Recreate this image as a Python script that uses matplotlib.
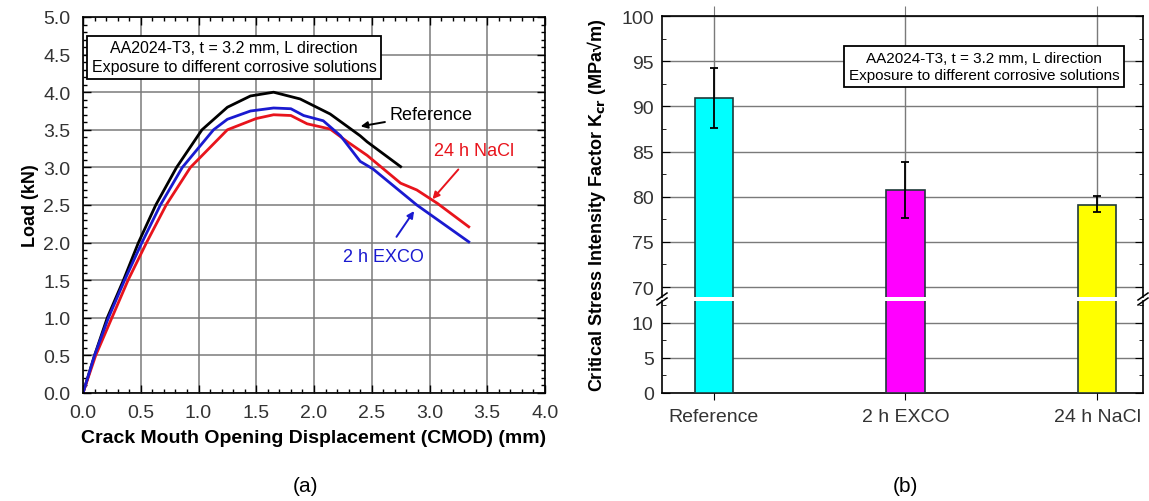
import matplotlib.pyplot as plt
from matplotlib.ticker import MultipleLocator

plt.rcParams['font.family'] = ['Liberation Sans', 'DejaVu Sans']

# ---- panel (a): load vs CMOD ----
ref_x = [0.0, 0.10, 0.21, 0.35, 0.48, 0.63, 0.81, 1.03, 1.25, 1.45, 1.65, 1.88, 2.14, 2.40, 2.46, 2.75]
ref_y = [0.0, 0.50, 1.00, 1.50, 2.00, 2.50, 3.00, 3.50, 3.80, 3.95, 4.00, 3.91, 3.71, 3.42, 3.34, 3.01]
exco_x = [0.0, 0.10, 0.22, 0.36, 0.51, 0.67, 0.86, 1.13, 1.25, 1.45, 1.65, 1.80, 1.91, 2.08, 2.23, 2.40, 2.51, 2.89, 3.34]
exco_y = [0.0, 0.50, 1.00, 1.50, 2.00, 2.50, 3.00, 3.50, 3.64, 3.75, 3.79, 3.78, 3.69, 3.62, 3.42, 3.08, 2.98, 2.50, 2.01]
nacl_x = [0.0, 0.11, 0.25, 0.39, 0.55, 0.72, 0.93, 1.25, 1.50, 1.65, 1.80, 1.94, 2.14, 2.29, 2.46, 2.75, 2.89, 3.07, 3.34]
nacl_y = [0.0, 0.50, 1.00, 1.50, 2.00, 2.50, 3.00, 3.50, 3.65, 3.70, 3.69, 3.58, 3.51, 3.34, 3.16, 2.79, 2.70, 2.52, 2.21]

# ---- panel (b): critical stress intensity factor ----
cases = ['Reference', '2 h EXCO', '24 h NaCl']
kcr = [90.9, 80.7, 79.1]
kcr_lo = [87.6, 77.6, 78.3]
kcr_hi = [94.2, 83.8, 80.1]
bar_colors = ['#00FFFF', '#FF00FF', '#FFFF00']

note = 'AA2024-T3, t = 3.2 mm, L direction\nExposure to different corrosive solutions'

fig = plt.figure(figsize=(11.49, 5.02), dpi=100)
W, H = 1149, 502

def box(l, t, r, b):
    return [l / W, 1 - b / H, (r - l) / W, (b - t) / H]

grid_c = '#7a7a7a'
tick_c = '#333333'
red = '#e8141c'
blue = '#1a1ad0'

# ----------------- (a) -----------------
ax = fig.add_axes(box(83, 18, 545, 394))
ax.plot(ref_x, ref_y, color='black', lw=2)
ax.plot(nacl_x, nacl_y, color=red, lw=2)
ax.plot(exco_x, exco_y, color=blue, lw=2)
ax.set_xlim(0, 4)
ax.set_ylim(0, 5)
ax.xaxis.set_major_locator(MultipleLocator(0.5))
ax.xaxis.set_minor_locator(MultipleLocator(0.1))
ax.yaxis.set_major_locator(MultipleLocator(0.5))
ax.yaxis.set_minor_locator(MultipleLocator(0.1))
ax.xaxis.set_major_formatter(plt.FormatStrFormatter('%.1f'))
ax.yaxis.set_major_formatter(plt.FormatStrFormatter('%.1f'))
ax.grid(True, which='major', color=grid_c, lw=1.1)
ax.tick_params(which='both', direction='in', top=True, right=True, labelsize=14,
               labelcolor=tick_c, width=1)
ax.tick_params(which='major', length=6)
ax.tick_params(which='minor', length=3)
ax.tick_params(axis='x', pad=8)
ax.tick_params(axis='y', pad=9)
for s in ax.spines.values():
    s.set_linewidth(1.2)
ax.set_ylabel('Load (kN)', fontsize=13, fontweight='bold', labelpad=3)
ax.set_xlabel('Crack Mouth Opening Displacement (CMOD) (mm)', fontsize=14,
              fontweight='bold', labelpad=6)
ax.text(0.327, 0.893, note, transform=ax.transAxes, ha='center', va='center',
        fontsize=11.5, linespacing=1.3,
        bbox=dict(boxstyle='square,pad=0.3', fc='white', ec='black', lw=1.3))

arrow = dict(arrowstyle='-|>', lw=1.4, mutation_scale=10)
ax.annotate('Reference', xy=(2.38, 3.54), xytext=(2.65, 3.71), fontsize=13,
            ha='left', va='center', color='black',
            arrowprops=dict(arrow, color='black', shrinkA=1))
ax.annotate('24 h NaCl', xy=(3.01, 2.55), xytext=(3.39, 3.22), fontsize=13,
            ha='center', va='center', color=red,
            arrowprops=dict(arrow, color=red, shrinkA=7))
ax.annotate('2 h EXCO', xy=(2.88, 2.45), xytext=(2.60, 1.82), fontsize=13,
            ha='center', va='center', color=blue,
            arrowprops=dict(arrow, color=blue, shrinkA=7))
fig.text(305 / W, 1 - 487 / H, '(a)', ha='center', va='center', fontsize=15)

# ----------------- (b) broken axis -----------------
xl, xr, ybrk = 662, 1143, 300
axu = fig.add_axes(box(xl, 17, xr, ybrk - 2))
axl = fig.add_axes(box(xl, ybrk + 2, xr, 394))
pos = list(range(len(cases)))
for a in (axu, axl):
    a.bar(pos, kcr, width=0.2, color=bar_colors, edgecolor='#1f3a3a', lw=1.2, zorder=3)
    a.set_xlim(-0.27, 2.24)
    a.set_xticks(pos)
    a.grid(True, axis='both', color=grid_c, lw=1.0, zorder=0)
    a.tick_params(axis='y', which='both', direction='in', right=True, labelsize=14,
                  labelcolor=tick_c, pad=6)
    a.tick_params(axis='y', which='major', length=6)
    a.tick_params(axis='y', which='minor', length=3)
    a.yaxis.set_minor_locator(MultipleLocator(2.5))
    a.yaxis.set_major_locator(MultipleLocator(5))
    for s in a.spines.values():
        s.set_linewidth(1.2)
err = [[k - lo for k, lo in zip(kcr, kcr_lo)], [hi - k for k, hi in zip(kcr, kcr_hi)]]
axu.errorbar(pos, kcr, yerr=err, fmt='none', ecolor='black', elinewidth=1.3,
             capsize=3, capthick=1.3, zorder=4)
axu.set_ylim(68.9, 100)
axl.set_ylim(0, 13.1)
axu.spines['bottom'].set_visible(False)
axl.spines['top'].set_visible(False)
axu.tick_params(axis='x', which='both', bottom=False, labelbottom=False, top=True,
                direction='out', length=7, color=grid_c)
axl.set_xticklabels(cases)
axl.tick_params(axis='x', direction='out', length=5, labelsize=14, labelcolor=tick_c, pad=6)

# break marks on both spines
for xs in (xl, xr):
    for dy in (-2.5, 2.5):
        fig.add_artist(plt.Line2D([(xs - 5) / W, (xs + 5) / W],
                                  [1 - (ybrk + dy + 3.5) / H, 1 - (ybrk + dy - 3.5) / H],
                                  color='black', lw=1.1, transform=fig.transFigure))

axu.text(0.67, 0.82, note, transform=axu.transAxes, ha='center', va='center',
         fontsize=11, linespacing=1.3,
         bbox=dict(boxstyle='square,pad=0.3', fc='white', ec='black', lw=1.3))

fig.text(597 / W, 1 - 205 / H, 'Critical Stress Intensity Factor K$_{\\mathbf{cr}}$ (MPa√m)',
         rotation=90, ha='center', va='center', fontsize=13, fontweight='bold')
fig.text(905 / W, 1 - 487 / H, '(b)', ha='center', va='center', fontsize=15)

fig.savefig('out.png', dpi=100)
